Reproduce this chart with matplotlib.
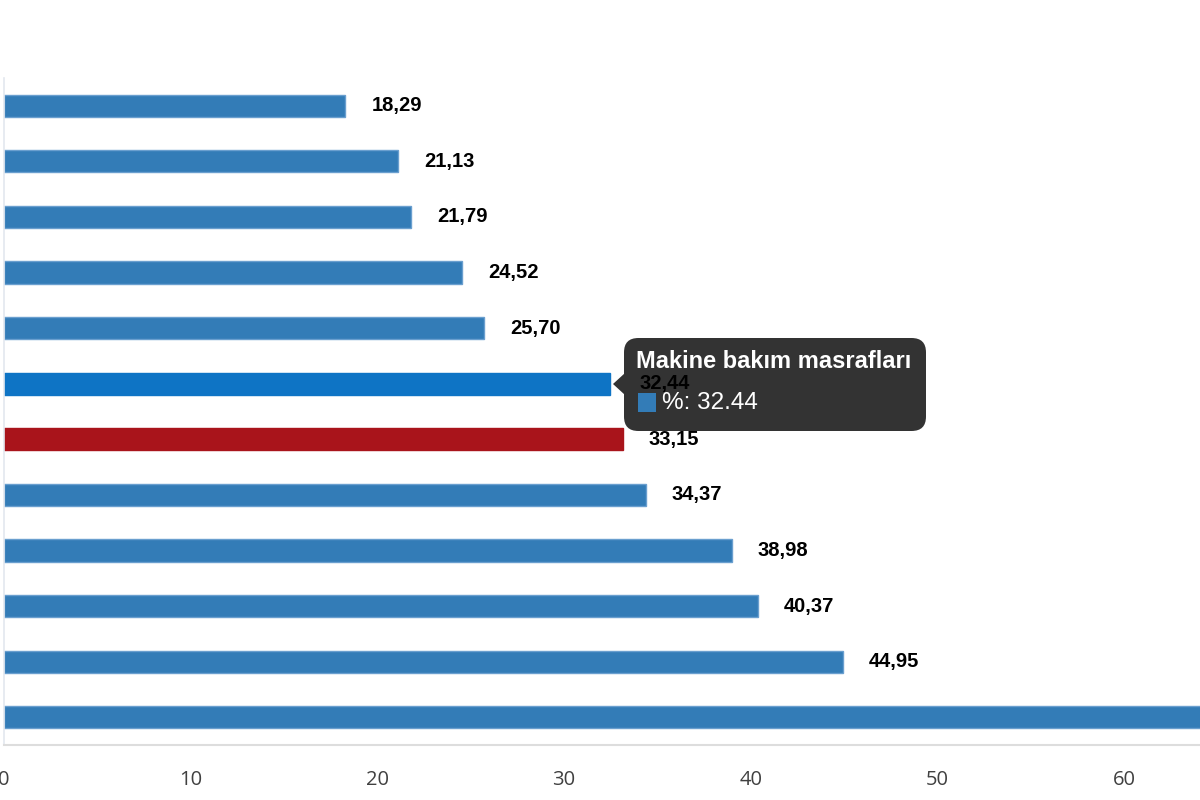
import matplotlib
matplotlib.use("Agg")
import matplotlib.pyplot as plt
from matplotlib.patches import FancyBboxPatch, Polygon, Rectangle

''' Data (top to bottom); last bar is cut off at the right edge '''
values = [18.29, 21.13, 21.79, 24.52, 25.70, 32.44, 33.15, 34.37, 38.98, 40.37, 44.95, 68.0]
labels = ["18,29", "21,13", "21,79", "24,52", "25,70", "32,44", "33,15", "34,37",
          "38,98", "40,37", "44,95", "68,00"]
hover_idx = 5
red_idx = 6
tooltip_title = "Makine bakım masrafları"
tooltip_value = "%: 32.44"
xticks = [0, 10, 20, 30, 40, 50, 60]

''' Colors '''
c_bar = "#337cb7"
c_edge = "#6a9fcf"
c_hover = "#0e74c5"
c_red = "#a9141b"

W, H = 1200, 800
fig = plt.figure(figsize=(12, 8), dpi=100)

# axes extends beyond right edge of figure (chart is cropped)
px_per_unit = 18.67
ax_left, ax_bottom, ax_top = 4, 745, 78
ax = fig.add_axes([ax_left / W, (H - ax_bottom) / H, 70 * px_per_unit / W, (ax_bottom - ax_top) / H])

colors = [c_bar] * len(values)
colors[hover_idx] = c_hover
colors[red_idx] = c_red
edges = [c_edge] * len(values)
edges[hover_idx] = c_hover
edges[red_idx] = c_red

ypos = list(range(len(values)))
ax.barh(ypos, values, height=0.4, color=colors, edgecolor=edges, linewidth=1, zorder=2)
ax.set_ylim(len(values) - 0.5, -0.5)
ax.set_xlim(0, 70)

for y, v, t in zip(ypos, values, labels):
    if y == hover_idx:
        continue
    ax.annotate(t, (v, y), xytext=(26, 0), textcoords="offset pixels",
                ha="left", va="center", fontsize=14.5, fontweight="bold",
                family="Liberation Sans", color="black", zorder=6,
                annotation_clip=True)

ax.set_yticks([])
ax.set_xticks(xticks)
ax.set_xticklabels([str(x) for x in xticks], fontsize=14.5, color="#404040", family="Open Sans")
ax.tick_params(axis="x", length=0, pad=18)
for s in ["top", "right"]:
    ax.spines[s].set_visible(False)
ax.spines["left"].set_color("#e3e8ef")
ax.spines["bottom"].set_color("#dddddd")
ax.spines["left"].set_linewidth(1.2)
ax.spines["bottom"].set_linewidth(1.5)

''' Tooltip (figure pixel coords, origin top-left) '''
def fx(x):
    return x / W

def fy(y):
    return (H - y) / H

box = FancyBboxPatch((fx(624), fy(431)), fx(926) - fx(624), fy(338) - fy(431),
                     boxstyle="round,pad=0,rounding_size=0.012",
                     transform=fig.transFigure, facecolor="#333333",
                     edgecolor="none", zorder=4, mutation_aspect=1.5)
fig.add_artist(box)
arrow = Polygon([(fx(625), fy(373)), (fx(613), fy(384)), (fx(625), fy(395))],
                closed=True, transform=fig.transFigure, facecolor="#333333",
                edgecolor="none", zorder=4)
fig.add_artist(arrow)
fig.text(fx(636), fy(362), tooltip_title, color="white", fontsize=17, fontweight="bold",
         family="Liberation Sans", va="center", ha="left", zorder=5)
fig.add_artist(Rectangle((fx(638), fy(412)), fx(18), 19 / H, transform=fig.transFigure,
                         facecolor=c_bar, edgecolor="none", zorder=5))
fig.text(fx(662), fy(403), tooltip_value, color="white", fontsize=17.5,
         family="Liberation Sans", va="center", ha="left", zorder=5)

# value label of the hovered bar is drawn on top of the tooltip
fig.text(fx(640), fy(383), labels[hover_idx], color="black", fontsize=14.5, fontweight="bold",
         family="Liberation Sans", va="center", ha="left", zorder=7)

fig.savefig("out.png", dpi=100)
